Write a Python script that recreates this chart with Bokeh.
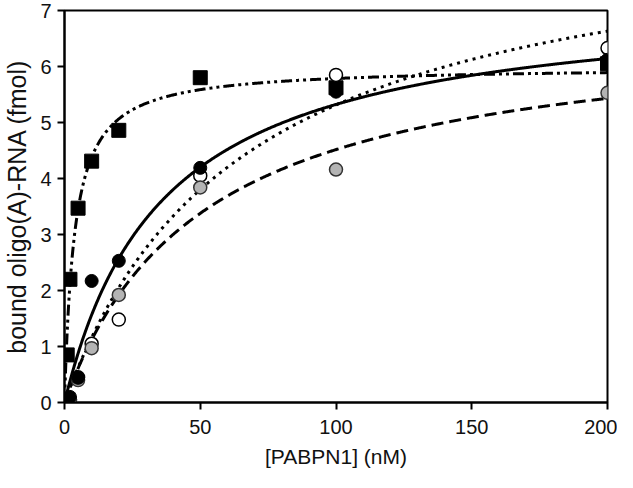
import numpy as np
from bokeh.plotting import figure
from bokeh.models import Range1d, FixedTicker
from bokeh.embed import file_html
from bokeh.resources import INLINE

# Data
x_sq = [0, 1, 2, 5, 10, 20, 50, 100, 200]
y_sq = [0.0, 0.85, 2.2, 3.47, 4.31, 4.86, 5.80, 5.62, 6.05]

x_black = [0, 2, 5, 10, 20, 50, 100, 200]
y_black = [0.0, 0.1, 0.44, 2.17, 2.53, 4.19, 5.55, 6.12]

x_white = [0, 2, 5, 10, 20, 50, 100, 200]
y_white = [0.0, 0.05, 0.45, 1.05, 1.48, 4.05, 5.85, 6.33]

x_grey = [0, 2, 5, 10, 20, 50, 100, 200]
y_grey = [0.0, 0.05, 0.4, 0.97, 1.92, 3.84, 4.16, 5.53]

# Hyperbolic fit parameters (Bmax, Kd) for each curve
fit_sq = (6.0, 3.7)
fit_black = (7.26, 36.4)
fit_white = (8.82, 66.0)
fit_grey = (6.81, 50.8)

x_ticks = [0, 50, 100, 150, 200]
y_ticks = [0, 1, 2, 3, 4, 5, 6, 7]

xs = np.linspace(0, 200, 800)


def curve(params):
    b, k = params
    return b * xs / (k + xs)


p = figure(width=617, height=472, output_backend="svg", toolbar_location=None,
           x_range=Range1d(0, 200), y_range=Range1d(0, 7),
           min_border_left=55, min_border_right=10, min_border_top=10,
           min_border_bottom=70)

p.background_fill_color = "white"
p.border_fill_color = "white"
p.outline_line_color = "black"
p.outline_line_width = 2
p.xgrid.visible = False
p.ygrid.visible = False

TXT = "#111111"
FONT = "Liberation Sans"

for ax in (p.xaxis[0], p.yaxis[0]):
    ax.axis_line_width = 2
    ax.axis_line_color = "black"
    ax.major_tick_line_width = 2
    ax.major_tick_line_color = "black"
    ax.major_tick_in = 0
    ax.major_tick_out = 7
    ax.minor_tick_line_color = None
    ax.major_label_text_font = FONT
    ax.major_label_text_font_size = "20px"
    ax.major_label_text_color = TXT
    ax.axis_label_text_font = FONT
    ax.axis_label_text_font_style = "normal"
    ax.axis_label_text_color = TXT

p.xaxis.ticker = FixedTicker(ticks=x_ticks)
p.yaxis.ticker = FixedTicker(ticks=y_ticks)
p.xaxis.axis_label = "[PABPN1] (nM)"
p.yaxis.axis_label = "bound oligo(A)-RNA (fmol)"
p.xaxis.axis_label_text_font_size = "21px"
p.yaxis.axis_label_text_font_size = "25px"
p.xaxis.major_label_standoff = 10
p.yaxis.major_label_standoff = 6
p.xaxis.axis_label_standoff = 8
p.yaxis.axis_label_standoff = 6

# Fitted curves
p.line(xs, curve(fit_sq), line_color="black", line_width=3, line_dash="11 4 3 4 3 4")
p.line(xs, curve(fit_black), line_color="black", line_width=3)
p.line(xs, curve(fit_white), line_color="black", line_width=3, line_dash="3 5")
p.line(xs, curve(fit_grey), line_color="black", line_width=3, line_dash="12 6")

# Data points
p.scatter(x_sq, y_sq, marker="square", size=14, fill_color="black", line_color="black")
p.scatter(x_white, y_white, marker="circle", size=13, fill_color="white",
          line_color="black", line_width=1.5)
p.scatter(x_grey, y_grey, marker="circle", size=13, fill_color="#b4b4b4",
          line_color="#333333", line_width=1.5)
p.scatter(x_black, y_black, marker="circle", size=13, fill_color="black",
          line_color="black")

open("out.html", "w").write(file_html(p, INLINE))
